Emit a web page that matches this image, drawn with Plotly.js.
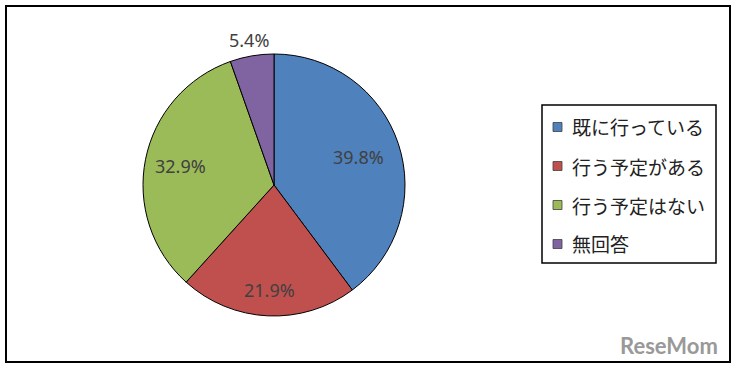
<!DOCTYPE html>
<html>
<head>
<meta charset="utf-8">
<script src="https://cdn.plot.ly/plotly-3.0.1.min.js"></script>
<style>html,body{margin:0;padding:0;background:#fff;}#chart{width:734px;height:368px;}</style>
</head>
<body>
<div id="chart"></div>
<script>
var categories = ["既に行っている", "行う予定がある", "行う予定はない", "無回答"];
var values = [39.8, 21.9, 32.9, 5.4];
var colors = ["#4F81BD", "#C0504D", "#9BBB59", "#8064A2"];
var labelRadius = [0.68, 0.80, 0.73, 1.12];

var W = 734, H = 368;
var cx = 274, cy = 185, R = 131;

var trace = {
  type: "pie",
  labels: categories,
  values: values,
  sort: false,
  direction: "clockwise",
  rotation: 0,
  marker: {colors: colors, line: {color: "#000", width: 1}},
  textinfo: "none",
  hoverinfo: "label+percent",
  showlegend: false,
  domain: {x: [(cx - R) / W, (cx + R) / W], y: [(H - cy - R) / H, (H - cy + R) / H]}
};

var total = values.reduce(function (a, b) { return a + b; }, 0);
var annotations = [];
var shapes = [];
var cum = 0;
values.forEach(function (v, i) {
  var mid = (cum + v / 2) / total * 2 * Math.PI;
  cum += v;
  var r = R * labelRadius[i];
  annotations.push({
    x: (cx + r * Math.sin(mid)) / W,
    y: 1 - (cy - r * Math.cos(mid)) / H,
    xref: "paper", yref: "paper",
    text: v.toFixed(1) + "%",
    showarrow: false,
    font: {family: "Noto Sans, Open Sans, sans-serif", size: 18, color: "#404040"},
    xanchor: "center", yanchor: "middle"
  });
});

// legend
var legX = 553, legY0 = 127, legStep = 39, sq = 9;
categories.forEach(function (c, i) {
  var y = legY0 + i * legStep;
  shapes.push({
    type: "rect", xref: "paper", yref: "paper",
    x0: legX / W, x1: (legX + sq) / W,
    y0: 1 - (y + sq / 2) / H, y1: 1 - (y - sq / 2) / H,
    fillcolor: colors[i], line: {color: "#404040", width: 0.8}
  });
  annotations.push({
    x: (legX + sq + 8) / W, y: 1 - y / H,
    xref: "paper", yref: "paper",
    text: c, showarrow: false,
    xanchor: "left", yanchor: "middle",
    font: {family: "Noto Sans CJK JP, sans-serif", size: 19, color: "#222"}
  });
});
// legend border
shapes.push({type: "rect", xref: "paper", yref: "paper",
  x0: 542 / W, x1: 716 / W, y0: 1 - 263 / H, y1: 1 - 105 / H,
  line: {color: "#000", width: 1.5}, fillcolor: "rgba(0,0,0,0)"});
// outer border
shapes.push({type: "rect", xref: "paper", yref: "paper",
  x0: 6 / W, x1: 730 / W, y0: 1 - 362 / H, y1: 1 - 6 / H,
  line: {color: "#000", width: 2}, fillcolor: "rgba(0,0,0,0)"});

// watermark
annotations.push({
  x: 720 / W, y: 1 - 345 / H, xref: "paper", yref: "paper",
  text: "<b>ReseMom</b>", showarrow: false, xanchor: "right", yanchor: "middle",
  font: {family: "Lato, Roboto, sans-serif", size: 22, color: "#999999"}
});

var layout = {
  width: W, height: H,
  margin: {l: 0, r: 0, t: 0, b: 0},
  paper_bgcolor: "#fff",
  showlegend: false,
  annotations: annotations,
  shapes: shapes
};

Plotly.newPlot("chart", [trace], layout, {displayModeBar: false, staticPlot: true});
</script>
</body>
</html>
